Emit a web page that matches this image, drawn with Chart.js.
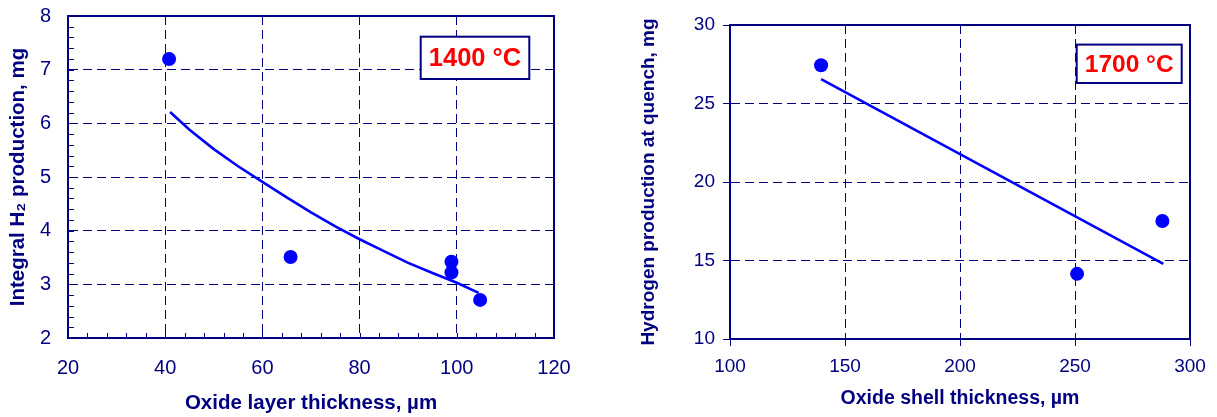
<!DOCTYPE html>
<html>
<head>
<meta charset="utf-8">
<script src="https://cdn.jsdelivr.net/npm/chart.js@4"></script>
<style>
  body { margin: 0; background: #fff; }
  .box { position: absolute; top: 0; height: 417px; }
  #leftBox { left: 0; width: 600px; }
  #rightBox { left: 610px; width: 607px; }
</style>
</head>
<body>
<div class="box" id="leftBox"><canvas id="layerChart"></canvas></div>
<div class="box" id="rightBox"><canvas id="shellChart"></canvas></div>
<script>
// 1400 °C : oxide layer thickness vs integral H2
const layerX = [40.8, 65.8, 98.9, 98.9, 104.8];
const layerH2 = [7.2, 3.51, 3.42, 3.22, 2.71];
const layerFitX = [41, 45, 50, 55, 60, 65, 70, 75, 80, 85, 90, 95, 100, 104.5];
const layerFitY = [6.21, 5.88, 5.52, 5.2, 4.91, 4.62, 4.34, 4.08, 3.84, 3.62, 3.4, 3.21, 3.03, 2.84];
const layerXTicks = [20, 120, 20];  // min, max, step
const layerYTicks = [2, 8, 1];

// 1700 °C : oxide shell thickness vs hydrogen at quench
const shellX = [139.6, 250.9, 288];
const shellH2 = [27.44, 14.15, 17.52];
const shellFitX = [139.6, 288.4];
const shellFitY = [26.55, 14.79];
const shellXTicks = [100, 300, 50];
const shellYTicks = [10, 30, 5];

const NAVY = '#000080';
const BLUE = '#0000ff';
Chart.defaults.font.family = '"Liberation Sans", Arial, sans-serif';
Chart.defaults.color = NAVY;

function pts(xs, ys) {
  return xs.map((x, i) => ({ x: x, y: ys[i] }));
}

// fixed axis sizes, no extra room for overhanging labels
function fixSize(prop, size) {
  return s => {
    s[prop] = size;
    s.paddingTop = s.paddingBottom = s.paddingLeft = s.paddingRight = 0;
  };
}

// frame, inner minor ticks and the temperature label
const decor = {
  id: 'decor',
  afterDraw(chart, args, opts) {
    const ctx = chart.ctx;
    const a = chart.chartArea;
    const xs = chart.scales.x, ys = chart.scales.y;
    ctx.save();
    ctx.strokeStyle = NAVY;
    if (opts.minorX) {
      ctx.lineWidth = 1;
      ctx.beginPath();
      for (let v = xs.min; v <= xs.max; v += opts.minorX) {
        const px = Math.round(xs.getPixelForValue(v)) + 0.5;
        ctx.moveTo(px, a.bottom);
        ctx.lineTo(px, a.bottom - 5);
      }
      for (let v = ys.min; v <= ys.max + 1e-9; v += opts.minorY) {
        const py = Math.round(ys.getPixelForValue(v)) + 0.5;
        ctx.moveTo(a.left, py);
        ctx.lineTo(a.left + 6, py);
      }
      ctx.stroke();
    }
    ctx.lineWidth = 2;
    ctx.strokeRect(a.left, a.top, a.right - a.left, a.bottom - a.top);

    const bx = a.right - opts.right - opts.w;
    const by = a.top + opts.top;
    ctx.fillStyle = '#fff';
    ctx.fillRect(bx, by, opts.w, opts.h);
    ctx.lineWidth = 2;
    ctx.strokeRect(bx, by, opts.w, opts.h);
    ctx.fillStyle = '#ff0000';
    ctx.font = 'bold ' + opts.size + 'px "Liberation Sans", Arial, sans-serif';
    ctx.textAlign = 'center';
    ctx.textBaseline = 'middle';
    ctx.fillText(opts.text, bx + opts.w / 2, by + opts.h / 2 + 1);
    ctx.restore();
  }
};

function makeChart(id, cfg) {
  return new Chart(document.getElementById(id), {
    type: 'scatter',
    data: {
      datasets: [
        { data: pts(cfg.fitX, cfg.fitY), showLine: true, borderColor: BLUE, borderWidth: 2.6,
          pointRadius: 0, fill: false, tension: 0 },
        { data: pts(cfg.x, cfg.y), backgroundColor: BLUE, borderWidth: 0, pointRadius: cfg.radius }
      ]
    },
    options: {
      responsive: true,
      maintainAspectRatio: false,
      animation: false,
      events: [],
      layout: { padding: cfg.padding },
      plugins: { legend: { display: false }, tooltip: { enabled: false }, decor: cfg.label },
      scales: {
        x: {
          type: 'linear', min: cfg.xTicks[0], max: cfg.xTicks[1],
          afterFit: fixSize('height', cfg.xHeight),
          ticks: { stepSize: cfg.xTicks[2], padding: cfg.xPad, font: { size: cfg.tickSize }, color: NAVY },
          grid: { color: NAVY, lineWidth: 1, drawTicks: cfg.outerTicks, tickLength: 7,
                  tickColor: NAVY, tickBorderDash: [] },
          border: { color: NAVY, width: 2, dash: [9, 5] },
          title: { display: true, text: cfg.xTitle, color: NAVY,
                   font: { size: cfg.xTitleSize, weight: 'bold' }, padding: { top: 0, bottom: cfg.xTitlePad } }
        },
        y: {
          type: 'linear', min: cfg.yTicks[0], max: cfg.yTicks[1],
          afterFit: fixSize('width', cfg.yWidth),
          ticks: { stepSize: cfg.yTicks[2], padding: cfg.yPad, font: { size: cfg.tickSize }, color: NAVY },
          grid: { color: NAVY, lineWidth: 1, drawTicks: cfg.outerTicks, tickLength: 7,
                  tickColor: NAVY, tickBorderDash: [] },
          border: { color: NAVY, width: 2, dash: [9, 5] },
          title: { display: true, text: cfg.yTitle, color: NAVY,
                   font: { size: cfg.yTitleSize, weight: 'bold' }, padding: { top: cfg.yTitlePad, bottom: 0 } }
        }
      }
    },
    plugins: [decor]
  });
}

makeChart('layerChart', {
  x: layerX, y: layerH2, fitX: layerFitX, fitY: layerFitY,
  xTicks: layerXTicks, yTicks: layerYTicks,
  radius: 7, tickSize: 20, outerTicks: false,
  padding: { left: 0, top: 16, right: 46, bottom: 0 },
  xHeight: 79, yWidth: 68, xPad: 18, yPad: 17, xTitlePad: 1, yTitlePad: 6,
  xTitleSize: 20.5, yTitleSize: 20.5,
  xTitle: 'Oxide layer thickness, \u00b5m',
  yTitle: 'Integral H\u2082 production, mg',
  label: { text: '1400 \u00b0C', right: 24.7, top: 20.7, w: 108.6, h: 42.3, size: 25.5, minorX: 4, minorY: 0.2 }
});

makeChart('shellChart', {
  x: shellX, y: shellH2, fitX: shellFitX, fitY: shellFitY,
  xTicks: shellXTicks, yTicks: shellYTicks,
  radius: 7, tickSize: 19, outerTicks: true,
  padding: { left: 0, top: 25, right: 27, bottom: 0 },
  xHeight: 78, yWidth: 120, xPad: 9, yPad: 8, xTitlePad: 7, yTitlePad: 27,
  xTitleSize: 19.5, yTitleSize: 19,
  xTitle: 'Oxide shell thickness, \u00b5m',
  yTitle: 'Hydrogen production at quench, mg',
  label: { text: '1700 \u00b0C', right: 8.3, top: 19.6, w: 105, h: 38.4, size: 24.5 }
});
</script>
</body>
</html>
